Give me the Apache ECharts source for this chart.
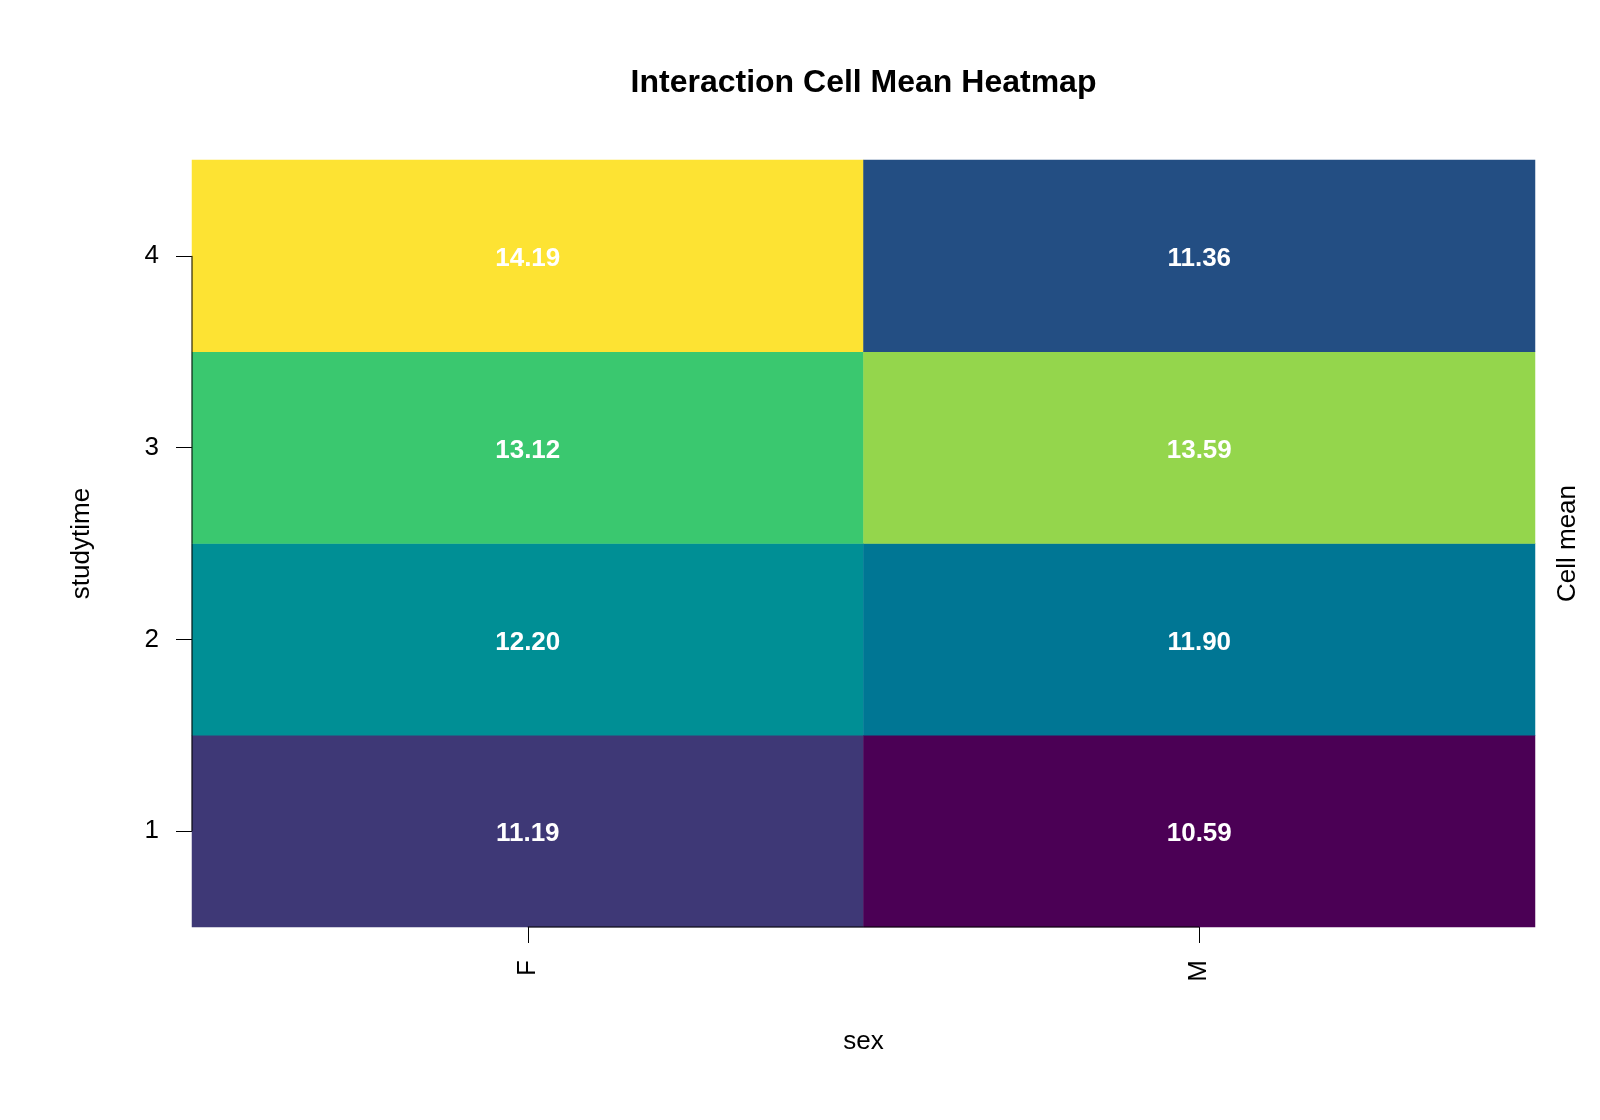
<!DOCTYPE html>
<html>
<head>
<meta charset="utf-8">
<title>Interaction Cell Mean Heatmap</title>
<script src="https://cdn.jsdelivr.net/npm/echarts@6/dist/echarts.min.js"></script>
<style>
  html, body { margin: 0; padding: 0; background: #fff; }
  #main { width: 1600px; height: 1120px; }
</style>
</head>
<body>
<div id="main"></div>
<script>
// factor levels
var sexLevels = ["F", "M"];
var studytimeLevels = ["1", "2", "3", "4"];
// cell means, one per studytime level (1..4)
var meanF = [11.19, 12.20, 13.12, 14.19];
var meanM = [10.59, 11.90, 13.59, 11.36];

var fontName = "Liberation Sans, Arial, sans-serif";
var gridLeft = 192, gridRight = 65;

// heatmap data: [x index, y index, value]
var cells = [];
[meanF, meanM].forEach(function (col, i) {
  col.forEach(function (v, j) {
    cells.push([i, j, v]);
  });
});
var allMeans = meanF.concat(meanM);

var myChart = echarts.init(document.getElementById("main"));

var option = {
  backgroundColor: "#fff",
  animation: false,
  title: {
    text: "Interaction Cell Mean Heatmap",
    // centred over the plot region, like R's main title
    left: (gridLeft + 1600 - gridRight) / 2,
    textAlign: "center",
    top: 67,
    padding: 0,
    textStyle: {
      fontFamily: fontName,
      fontSize: 32,
      fontWeight: "bold",
      color: "#000"
    }
  },
  grid: {
    left: gridLeft,
    right: gridRight,
    top: 160,
    bottom: 193
  },
  xAxis: {
    type: "category",
    data: sexLevels,
    name: "sex",
    nameLocation: "middle",
    nameGap: 102,
    nameTextStyle: { fontFamily: fontName, fontSize: 26, color: "#000" },
    axisLine: { show: false },
    axisTick: { show: true, alignWithLabel: true, length: 16, lineStyle: { color: "#000", width: 1 } },
    axisLabel: { rotate: 90, margin: 33, fontFamily: fontName, fontSize: 26, color: "#000" },
    splitLine: { show: false }
  },
  yAxis: [
    {
      type: "category",
      data: studytimeLevels,
      name: "studytime",
      nameLocation: "middle",
      nameGap: 97,
      nameTextStyle: { fontFamily: fontName, fontSize: 26, color: "#000" },
      axisLine: { show: false },
      axisTick: { show: true, alignWithLabel: true, length: 16, lineStyle: { color: "#000", width: 1 } },
      axisLabel: { margin: 33, padding: [4, 0, 0, 0], fontFamily: fontName, fontSize: 26, color: "#000" },
      splitLine: { show: false }
    },
    {
      type: "category",
      data: studytimeLevels,
      position: "right",
      name: "Cell mean",
      nameLocation: "middle",
      nameGap: 20,
      nameTextStyle: { fontFamily: fontName, fontSize: 26, color: "#000" },
      axisLine: { show: false },
      axisTick: { show: false },
      axisLabel: { show: false },
      splitLine: { show: false }
    }
  ],
  visualMap: {
    type: "continuous",
    show: false,
    seriesIndex: 0,
    dimension: 2,
    min: Math.min.apply(null, allMeans),
    max: Math.max.apply(null, allMeans),
    inRange: {
      color: ["#4B0055", "#462064", "#3E3876", "#0E5F8D", "#006C94", "#008695", "#009E94",
              "#00B287", "#22C378", "#5ACE63", "#94D64C", "#C9DD3E", "#FDE333"]
    }
  },
  series: [
    {
      type: "heatmap",
      data: cells,
      label: {
        show: true,
        formatter: function (p) { return p.value[2].toFixed(2); },
        offset: [0, 3],
        color: "#fff",
        fontFamily: fontName,
        fontSize: 26,
        fontWeight: "bold"
      },
      itemStyle: { borderWidth: 0 },
      emphasis: { disabled: true }
    },
    {
      // R style axis lines: from first tick to last tick only
      type: "custom",
      data: [[0, 0]],
      z: 10,
      silent: true,
      renderItem: function (params, api) {
        var band = api.size([1, 1]);
        var p0 = api.coord([0, 0]);
        var pTop = api.coord([0, studytimeLevels.length - 1]);
        var pRight = api.coord([sexLevels.length - 1, 0]);
        var xLeft = p0[0] - band[0] / 2;
        var yBottom = p0[1] + band[1] / 2;
        var style = { stroke: "#000", lineWidth: 1 };
        return {
          type: "group",
          children: [
            { type: "line", shape: { x1: xLeft, y1: pTop[1], x2: xLeft, y2: p0[1] }, style: style },
            { type: "line", shape: { x1: p0[0], y1: yBottom, x2: pRight[0], y2: yBottom }, style: style }
          ]
        };
      }
    }
  ]
};

myChart.setOption(option);
</script>
</body>
</html>
